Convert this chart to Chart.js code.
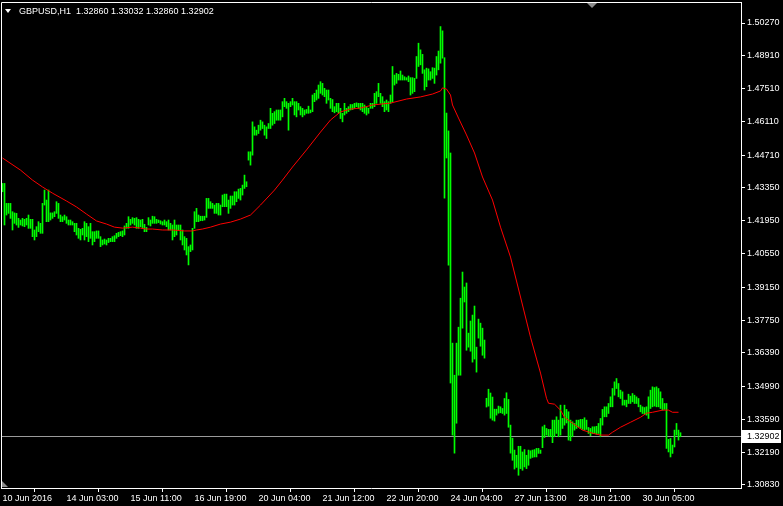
<!DOCTYPE html>
<html><head><meta charset="utf-8">
<script src="https://cdn.jsdelivr.net/npm/chart.js@4.4.1/dist/chart.umd.min.js"></script>
<style>html,body{margin:0;padding:0;background:#000;overflow:hidden}canvas{display:block}</style>
</head><body>
<canvas id="c" width="783" height="506"></canvas>
<script>
const symbolTitle = 'GBPUSD,H1  1.32860 1.33032 1.32860 1.32902';
const currentPrice = 1.32902;
const currentPriceLabel = '1.32902';
const xTickIdx = [0,32,64,96,128,160,192,224,256,288,320];
const xTickLabels = ['10 Jun 2016','14 Jun 03:00','15 Jun 11:00','16 Jun 19:00','20 Jun 04:00','21 Jun 12:00','22 Jun 20:00','24 Jun 04:00','27 Jun 13:00','28 Jun 21:00','30 Jun 05:00'];
const yTickLabels = ['1.50270','1.48910','1.47510','1.46110','1.44710','1.43350','1.41950','1.40550','1.39150','1.37750','1.36390','1.34990','1.33590','1.32190','1.30830'];

const highs = [
1.4352,1.4352,1.4268,1.4268,1.4268,1.4233,1.4228,1.4226,1.4205,1.4198,
1.4205,1.4201,1.4205,1.4219,1.4201,1.4201,1.4156,1.4170,1.4191,1.4184,
1.4268,1.4324,1.4282,1.4324,1.4228,1.4228,1.4233,1.4275,1.4268,1.4219,
1.4212,1.4219,1.4212,1.4198,1.4198,1.4191,1.4184,1.4184,1.4163,1.4159,
1.4163,1.4191,1.4184,1.4170,1.4184,1.4149,1.4149,1.4152,1.4152,1.4128,
1.4114,1.4118,1.4114,1.4121,1.4121,1.4128,1.4132,1.4142,1.4146,1.4149,
1.4152,1.4173,1.4184,1.4212,1.4201,1.4208,1.4205,1.4208,1.4201,1.4198,
1.4201,1.4180,1.4167,1.4208,1.4198,1.4214,1.4212,1.4201,1.4198,1.4195,
1.4191,1.4198,1.4191,1.4198,1.4184,1.4177,1.4198,1.4177,1.4177,1.4177,
1.4156,1.4128,1.4121,1.4086,1.4093,1.4163,1.4233,1.4247,1.4219,1.4214,
1.4214,1.4214,1.4289,1.4289,1.4275,1.4268,1.4261,1.4268,1.4268,1.4261,
1.4303,1.4307,1.4307,1.4282,1.4299,1.4299,1.4317,1.4317,1.4328,1.4331,
1.4345,1.4387,1.4359,
1.4485,1.4485,1.4611,1.4590,1.4576,1.4597,1.4618,1.4611,1.4597,1.4590,
1.4604,1.4668,1.4647,1.4654,1.4661,1.4661,1.4661,1.4696,1.4710,1.4696,
1.4689,1.4696,1.4710,1.4696,1.4696,1.4689,1.4675,1.4668,1.4661,1.4663,
1.4677,1.4661,1.4724,1.4731,1.4745,1.4766,1.4780,1.4773,1.4752,1.4745,
1.4745,1.4710,1.4705,1.4675,1.4689,1.4689,1.4668,1.4647,1.4689,1.4668,
1.4675,1.4684,1.4684,1.4689,1.4691,1.4689,1.4689,1.4689,1.4682,1.4675,
1.4668,1.4689,1.4689,1.4731,1.4738,1.4773,1.4731,1.4717,1.4696,1.4703,
1.4696,1.4724,
1.4844,1.4808,1.4815,1.4811,1.4825,1.4808,1.4801,1.4797,1.4804,1.4797,
1.4797,1.4794,1.4886,1.4942,1.4914,1.4895,1.4830,1.4837,1.4834,1.4822,
1.4839,1.4837,1.4886,1.4909,1.5012,1.4994,1.4881,
1.4648,1.4573,1.4480,1.3680,1.3545,1.3680,1.3747,1.3869,1.3979,1.3916,
1.3933,1.3722,1.3773,1.3798,1.3836,1.3663,1.3781,1.3764,1.3743,1.3693,
1.3448,1.3486,1.3470,1.3453,1.3402,1.3402,1.3415,1.3412,1.3405,1.3447,
1.3471,1.3443,1.3335,1.3280,1.3230,1.3208,1.3246,1.3246,1.3222,1.3232,
1.3208,1.3230,1.3227,1.3230,1.3232,1.3237,1.3237,1.3230,1.3328,1.3335,
1.3321,1.3317,
1.3317,1.3356,1.3356,1.3370,1.3356,1.3419,1.3363,1.3419,1.3401,1.3391,
1.3356,1.3349,1.3342,1.3356,1.3356,1.3359,1.3359,1.3366,1.3356,1.3325,
1.3321,1.3328,1.3328,1.3330,1.3342,1.3363,1.3401,1.3412,1.3412,1.3426,
1.3454,1.3489,1.3517,1.3531,1.3510,1.3482,1.3475,1.3440,1.3440,1.3465,
1.3457,1.3468,1.3461,1.3454,1.3447,1.3419,1.3412,1.3409,1.3412,1.3454,
1.3482,1.3496,1.3493,1.3496,1.3489,1.3475,1.3447,1.3426,1.3426,1.3275,
1.3279,1.3251,1.3314,1.3342,1.3314,1.3303
];
const lows = [
1.4317,1.4177,1.4219,1.4226,1.4205,1.4156,1.4184,1.4177,1.4167,1.4177,
1.4173,1.4170,1.4177,1.4163,1.4163,1.4128,1.4114,1.4128,1.4149,1.4142,
1.4142,1.4261,1.4191,1.4191,1.4198,1.4205,1.4212,1.4226,1.4205,1.4191,
1.4191,1.4198,1.4184,1.4177,1.4177,1.4177,1.4149,1.4135,1.4121,1.4114,
1.4135,1.4114,1.4128,1.4107,1.4121,1.4093,1.4107,1.4121,1.4121,1.4086,
1.4093,1.4097,1.4093,1.4103,1.4107,1.4107,1.4107,1.4121,1.4128,1.4132,
1.4128,1.4135,1.4163,1.4163,1.4177,1.4184,1.4177,1.4163,1.4163,1.4170,
1.4163,1.4149,1.4149,1.4177,1.4173,1.4184,1.4184,1.4184,1.4187,1.4181,
1.4177,1.4177,1.4170,1.4156,1.4156,1.4114,1.4128,1.4135,1.4156,1.4114,
1.4093,1.4072,1.4051,1.4009,1.4065,1.4072,1.4163,1.4191,1.4191,1.4195,
1.4195,1.4198,1.4209,1.4247,1.4247,1.4247,1.4226,1.4226,1.4219,1.4219,
1.4254,1.4254,1.4254,1.4226,1.4247,1.4261,1.4261,1.4275,1.4289,1.4282,
1.4303,1.4331,1.4338,
1.4450,1.4429,1.4471,1.4555,1.4555,1.4562,1.4576,1.4583,1.4555,1.4541,
1.4583,1.4583,1.4597,1.4604,1.4618,1.4618,1.4618,1.4632,1.4675,1.4668,
1.4576,1.4675,1.4682,1.4640,1.4632,1.4661,1.4640,1.4632,1.4640,1.4647,
1.4647,1.4649,1.4654,1.4696,1.4703,1.4710,1.4731,1.4724,1.4717,1.4689,
1.4703,1.4668,1.4654,1.4649,1.4654,1.4647,1.4625,1.4611,1.4640,1.4647,
1.4654,1.4661,1.4663,1.4668,1.4675,1.4668,1.4661,1.4654,1.4647,1.4640,
1.4647,1.4668,1.4668,1.4675,1.4689,1.4717,1.4689,1.4675,1.4654,1.4661,
1.4654,1.4689,
1.4696,1.4766,1.4773,1.4787,1.4787,1.4787,1.4787,1.4787,1.4780,1.4724,
1.4731,1.4738,1.4794,1.4844,1.4851,1.4815,1.4745,1.4759,1.4787,1.4787,
1.4794,1.4773,1.4808,1.4830,1.4858,1.4879,1.4290,
1.4459,1.4008,1.3512,1.3293,1.3217,1.3343,1.3545,1.3545,1.3743,1.3853,
1.3650,1.3663,1.3646,1.3600,1.3613,1.3558,1.3701,1.3667,1.3629,1.3617,
1.3411,1.3415,1.3364,1.3356,1.3352,1.3377,1.3385,1.3387,1.3384,1.3377,
1.3384,1.3326,1.3217,1.3187,1.3150,1.3157,1.3124,1.3152,1.3145,1.3159,
1.3152,1.3166,1.3195,1.3199,1.3201,1.3201,1.3216,1.3216,1.3240,1.3283,
1.3293,1.3288,
1.3286,1.3261,1.3286,1.3300,1.3286,1.3293,1.3321,1.3335,1.3344,1.3272,
1.3269,1.3286,1.3314,1.3321,1.3328,1.3321,1.3317,1.3314,1.3317,1.3300,
1.3290,1.3300,1.3300,1.3297,1.3300,1.3286,1.3335,1.3370,1.3370,1.3384,
1.3412,1.3412,1.3461,1.3489,1.3454,1.3447,1.3419,1.3419,1.3412,1.3426,
1.3426,1.3433,1.3426,1.3426,1.3412,1.3391,1.3384,1.3381,1.3377,1.3363,
1.3405,1.3412,1.3415,1.3412,1.3412,1.3405,1.3398,1.3401,1.3237,1.3222,
1.3201,1.3216,1.3243,1.3293,1.3272,1.3286
];
const maIdx = [0,9,15,20,25,32,37,42,47,52,56,60,65,69,72,75,80,85,91,95,97,100,104,109,114,119,124,129,136,140,145,152,159,164,169,174,179,185,194,202,209,215,219,220,222,224,225,228,232,236,240,245,249,254,259,264,269,272,273,276,279,281,285,290,295,299,303,305,309,314,319,322,325,330,333,335,338];
const maVal = [1.4459,1.4408,1.4366,1.4337,1.4311,1.4278,1.4253,1.4223,1.4194,1.4181,1.4168,1.4164,1.4168,1.4164,1.4160,1.4160,1.4156,1.4156,1.4152,1.4152,1.4156,1.4160,1.4168,1.4181,1.4189,1.4202,1.4219,1.4261,1.4324,1.4366,1.4421,1.4493,1.4568,1.4619,1.4653,1.4665,1.4669,1.4682,1.4690,1.4707,1.4716,1.4728,1.4741,1.4754,1.4749,1.4724,1.4682,1.4627,1.4556,1.4480,1.4379,1.4282,1.4168,1.4042,1.3874,1.3705,1.3554,1.3448,1.3427,1.3423,1.3398,1.3368,1.3343,1.3314,1.3301,1.3293,1.3293,1.3305,1.3326,1.3347,1.3368,1.3385,1.3389,1.3398,1.3398,1.3389,1.3389];

const FONT = {family: '"Liberation Sans", Arial, sans-serif', size: 9};
Chart.defaults.color = '#ffffff';

const mtPlugin = {
  id: 'mt',
  beforeDraw(chart) {
    const c = chart.ctx;
    c.save(); c.fillStyle = '#000'; c.fillRect(0, 0, chart.width, chart.height); c.restore();
  },
  beforeDatasetsDraw(chart) {
    const c = chart.ctx, a = chart.chartArea, y = Math.round(chart.scales.y.getPixelForValue(currentPrice)) + 0.5;
    c.save();
    c.strokeStyle = '#9a9a9a'; c.lineWidth = 1;
    c.beginPath(); c.moveTo(a.left, y); c.lineTo(a.right, y); c.stroke();
    c.restore();
  },
  afterDraw(chart) {
    const c = chart.ctx, a = chart.chartArea;
    c.save();
    c.strokeStyle = '#ffffff'; c.lineWidth = 1;
    c.beginPath();
    c.moveTo(a.left + 0.5, a.bottom); c.lineTo(a.left + 0.5, a.top + 0.5); c.lineTo(a.right, a.top + 0.5);
    c.stroke();
    // price label
    const y = Math.round(chart.scales.y.getPixelForValue(currentPrice));
    c.fillStyle = '#ffffff';
    c.fillRect(a.right + 1, y - 6, 39, 13);
    c.fillStyle = '#000000';
    c.font = '9px "Liberation Sans", Arial, sans-serif';
    c.textBaseline = 'middle'; c.textAlign = 'left';
    c.fillText(currentPriceLabel, a.right + 6, y + 0.5);
    // title
    c.fillStyle = '#ffffff';
    c.beginPath(); c.moveTo(5, 9); c.lineTo(11, 9); c.lineTo(8, 13); c.closePath(); c.fill();
    c.textBaseline = 'alphabetic';
    c.fillText(symbolTitle, 19, 14);
    // markers
    c.fillStyle = '#8c8c8c';
    c.beginPath(); c.moveTo(587, 3); c.lineTo(597, 3); c.lineTo(592, 8); c.closePath(); c.fill();
    c.beginPath(); c.moveTo(2, 481); c.lineTo(2, 487); c.lineTo(8, 487); c.closePath(); c.fill();
    c.restore();
  }
};

new Chart(document.getElementById('c').getContext('2d'), {
  type: 'bar',
  data: {
    datasets: [
      {type: 'line', data: maIdx.map((x, k) => ({x: x, y: maVal[k]})), borderColor: '#ff0000', borderWidth: 1, pointRadius: 0, tension: 0, order: 0},
      {type: 'bar', data: highs.map((h, i) => ({x: i, y: [lows[i], h]})), backgroundColor: '#00ff00', borderWidth: 0, barThickness: 1, grouped: false, order: 1}
    ]
  },
  options: {
    responsive: false, animation: false, devicePixelRatio: 1,
    layout: {padding: {top: 2, left: 1, right: 0, bottom: 0}, autoPadding: false},
    plugins: {legend: {display: false}, tooltip: {enabled: false}, title: {display: false}},
    scales: {
      x: {
        type: 'linear', min: -0.75, max: 369.25, offset: false,
        afterBuildTicks: s => { s.ticks = xTickIdx.map(v => ({value: v})); },
        afterFit: s => { s.height = 18; s.paddingLeft = 0; s.paddingRight = 0; },
        ticks: {color: '#ffffff', font: FONT, autoSkip: false, maxRotation: 0, minRotation: 0, align: 'start', padding: 1,
          callback: (v, i) => xTickLabels[i]},
        grid: {display: true, drawOnChartArea: false, drawTicks: true, tickLength: 4, color: '#ffffff'},
        border: {display: true, color: '#ffffff'}
      },
      y: {
        type: 'linear', position: 'right', min: 1.307037, max: 1.511537,
        afterBuildTicks: s => { s.ticks = yTickLabels.map(t => ({value: parseFloat(t)})); },
        afterFit: s => { s.width = 42; s.paddingTop = 0; s.paddingBottom = 0; },
        ticks: {color: '#ffffff', font: FONT, padding: 2, autoSkip: false, callback: (v, i) => yTickLabels[i]},
        grid: {display: true, drawOnChartArea: false, drawTicks: true, tickLength: 4, color: '#ffffff'},
        border: {display: true, color: '#ffffff'}
      }
    }
  },
  plugins: [mtPlugin]
});
</script>
</body></html>
